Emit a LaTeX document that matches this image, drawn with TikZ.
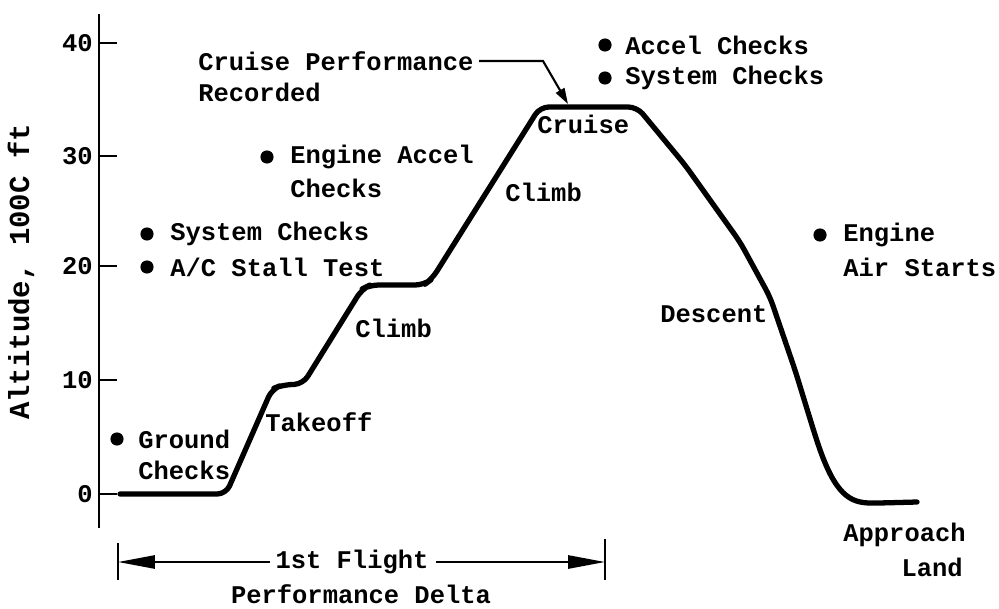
\documentclass[tikz,border=0pt]{standalone}
\usepackage{fontspec}
\setmonofont{Liberation Mono}
\usetikzlibrary{arrows.meta,positioning}
\tikzset{
  lbl/.style={font=\ttfamily\bfseries\fontsize{14.5}{17}\selectfont,inner sep=0pt,anchor=west},
  tlbl/.style={font=\ttfamily\bfseries\fontsize{14.5}{17}\selectfont,inner sep=0pt,anchor=east},
  ylbl/.style={font=\ttfamily\bfseries\fontsize{16.5}{18}\selectfont,inner sep=0pt},
  dot/.style={circle,fill=black,inner sep=0pt,minimum size=7.5pt},
  prof/.style={line width=3pt,line join=round,line cap=round,rounded corners=5pt},
  axisln/.style={line width=1.7pt},
  tickln/.style={line width=1.3pt},
  dimbar/.style={line width=1pt},
  dima/.style={line width=1.2pt,-{Triangle[length=21pt,width=7.5pt]}},
  cpa/.style={line width=1.2pt,-{Triangle[length=9pt,width=5.5pt]}},
}
\begin{document}
\begin{tikzpicture}[x=0.02cm,y=-0.02cm]
  \useasboundingbox (0,0) rectangle (999,608);
  % axis and ticks
  \coordinate (ytop) at (99,14);
  \coordinate (ybot) at (99,528);
  \draw[axisln] (ytop) -- (ybot);
  \foreach \v/\yy in {40/43,30/156,20/266,10/380,0/494}{
    \coordinate (t\v) at (99,\yy);
    \draw[tickln] (t\v) -- ++(18,0);
    \node[tlbl] (n\v) at (93,\yy) {\v};
  }
  \node[ylbl,rotate=90] (ylab) at (21,272) {Altitude, 100C ft};
  % flight profile
  \draw[prof] (120,494) -- (226,494) -- (272,389) -- (282,385) -- (303,384)
    -- (362,289) -- (370,285) -- (424,285) -- (432,279) -- (540,107)
    -- (637,107) -- (685,165) -- (740,242) -- (770,297) -- (795,370)
    -- (815,435) .. controls (835,495) and (850,503) .. (880,503) -- (917,502);
  % cruise note
  \node[lbl] (cpr) at (198,61) {Cruise Performance};
  \node[lbl] (rec) at (198,92) {Recorded};
  \coordinate (cpk) at (543,61);
  \coordinate (cpt) at (568,104);
  \draw[cpa] ([xshift=3pt]cpr.east) -- (cpk) -- (cpt);
  % events
  \node[dot] (b1) at (605,45) {};
  \node[lbl] (acc) at (625,45) {Accel Checks};
  \node[dot] (b2) at (605,78) {};
  \node[lbl] (sys2) at (625,78) {System Checks};
  \node[dot] (b3) at (267,157) {};
  \node[lbl] (eng) at (290,157) {Engine Accel};
  \node[lbl] (engc) at (290,188) {Checks};
  \node[dot] (b4) at (147,234) {};
  \node[lbl] (sys1) at (170,234) {System Checks};
  \node[dot] (b5) at (147,267) {};
  \node[lbl] (stall) at (170,267) {A/C Stall Test};
  \node[dot] (b6) at (117,439) {};
  \node[lbl] (gnd) at (138,439) {Ground};
  \node[lbl] (gndc) at (138,470) {Checks};
  \node[dot] (b7) at (820,235) {};
  \node[lbl] (air) at (843,235) {Engine};
  \node[lbl] (airs) at (843,267) {Air Starts};
  % phases
  \node[lbl] (cru) at (537,124) {Cruise};
  \node[lbl] (clb2) at (505,192) {Climb};
  \node[lbl] (clb1) at (355,328) {Climb};
  \node[lbl] (tko) at (265,422) {Takeoff};
  \node[lbl] (dsc) at (660,314) {Descent};
  \node[lbl] (app) at (843,535) {Approach};
  \node[lbl,anchor=east] (lnd) at (963,567) {Land};
  % first flight span
  \coordinate (dl) at (118,562);
  \coordinate (dr) at (605,562);
  \draw[dimbar] ([yshift=11pt]dl) -- ([yshift=-10pt]dl);
  \draw[dimbar] ([yshift=13pt]dr) -- ([yshift=-10pt]dr);
  \node[lbl,anchor=center] (fl) at (352,562) {1st Flight};
  \node[lbl,anchor=center] (pd) at (361,594) {Performance Delta};
  \draw[dima] ([xshift=-3pt]fl.west) -- (dl);
  \draw[dima] ([xshift=4pt]fl.east) -- (dr);
\end{tikzpicture}
\end{document}
